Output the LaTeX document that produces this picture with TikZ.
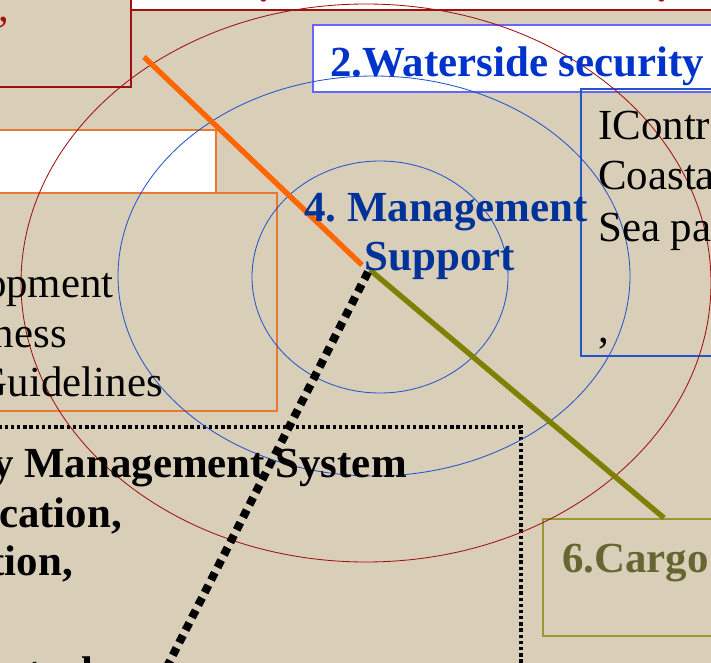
\documentclass[tikz,border=0pt]{standalone}
\usepackage{fontspec}
\setmainfont{Liberation Serif}
\usetikzlibrary{calc}
\definecolor{bgbeige}{RGB}{217,207,185}
\definecolor{darkred}{RGB}{160,16,16}
\definecolor{ringblue}{RGB}{34,85,204}
\definecolor{boxblue}{RGB}{102,102,255}
\definecolor{wsblue}{RGB}{0,51,204}
\definecolor{mgblue}{RGB}{0,51,153}
\definecolor{boxorange}{RGB}{235,120,50}
\definecolor{lineorange}{RGB}{255,102,0}
\definecolor{lineolive}{RGB}{128,128,0}
\definecolor{boxolive}{RGB}{153,153,51}
\definecolor{cargotext}{RGB}{102,102,51}
\newcommand{\bigtext}{\fontsize{30.5}{36}\selectfont}

\begin{document}
\begin{tikzpicture}[x=0.025cm,y=-0.025cm,
    lbl/.style={inner sep=0pt,font=\bigtext},
    ring/.style={line width=0.6pt}]
  \useasboundingbox (0,0) rectangle (711,663);
  \clip (0,0) rectangle (711,663);
  \fill[bgbeige] (0,0) rectangle (711,663);

  % boxes round the rings
  \draw[darkred,line width=0.8pt] (-20,-40) rectangle (131,87);
  \draw[darkred,line width=0.8pt,fill=white] (131,-40) rectangle (740,10);
  \draw[boxblue,line width=1.2pt,fill=white] (313,25) rectangle (740,92);
  \draw[ringblue,line width=0.8pt] (581,89) rectangle (740,356);
  \draw[boxorange,line width=0.8pt,fill=white] (-20,130) rectangle (216,193);
  \draw[boxorange,line width=0.8pt] (-20,193) rectangle (277,411);
  \draw[black,line width=2.4pt,dash pattern=on 2.4pt off 2pt] (-20,427) -- (521,427) -- (521,700);
  \draw[boxolive,line width=0.8pt] (543,519) rectangle (740,636);

  % rings
  \draw[ring,darkred] (366,283) ellipse [x radius=345, y radius=279];
  \draw[ring,ringblue] (374,276) ellipse [x radius=256, y radius=200];
  \draw[ring,ringblue] (380,277) ellipse [x radius=128, y radius=116];

  % texts
  \node[lbl,anchor=base,text=darkred,font=\bigtext\bfseries] (d1) at (264,2) {.};
  \node[lbl,anchor=base,text=darkred,font=\bigtext\bfseries] (d2) at (662,2) {.};
  \node[lbl,anchor=base east,text=darkred] (c1) at (10,22) {,};
  \node[lbl,anchor=base west,text=wsblue,font=\bigtext\bfseries] (water) at (330,77) {2.Waterside security};
  \node[lbl,anchor=base west] (ictl1) at (598,140) {IControl};
  \node[lbl,anchor=base west] (ictl2) at (598,190) {Coastal};
  \node[lbl,anchor=base west] (ictl3) at (598,242) {Sea patrol};
  \node[lbl,anchor=base west] (ictl4) at (598,342) {,};
  \node[lbl,anchor=base east] (dev1) at (114,297) {Development};
  \node[lbl,anchor=base east] (dev2) at (67,347) {Awareness};
  \node[lbl,anchor=base east] (dev3) at (163,396) {Guidelines};
  \node[lbl,anchor=base east,font=\bigtext\bfseries] (sms1) at (407,477) {Security Management System};
  \node[lbl,anchor=base east,font=\bigtext\bfseries] (sms2) at (122,527) {Identification,};
  \node[lbl,anchor=base east,font=\bigtext\bfseries] (sms3) at (73,575) {Verification,};
  \node[lbl,anchor=base east,font=\bigtext\bfseries] (sms4) at (94,686) {Access Control};
  \node[lbl,anchor=base west,text=cargotext,font=\bigtext\bfseries] (cargo) at (562,572) {6.Cargo};

  % spokes
  \coordinate (hub) at (366,268);
  \coordinate (oEnd) at (144,57);
  \coordinate (gEnd) at (664,518);
  \coordinate (kEnd) at (150,700);
  \draw[lineorange,line width=3.8pt] (oEnd) -- ($(hub)+(-4,-3)$);
  \draw[lineolive,line width=3.8pt] ($(hub)+(4,2)$) -- (gEnd);
  \draw[black,line width=5.8pt,dash pattern=on 5.8pt off 4.2pt] ($(hub)+(2,4)$) -- (kEnd);

  \node[lbl,anchor=base west,text=mgblue,font=\bigtext\bfseries] (mgmt) at (304,222) {4.\ Management};
  \node[lbl,anchor=base,text=mgblue,font=\bigtext\bfseries] (supp) at (440,270) {Support};
\end{tikzpicture}
\end{document}
